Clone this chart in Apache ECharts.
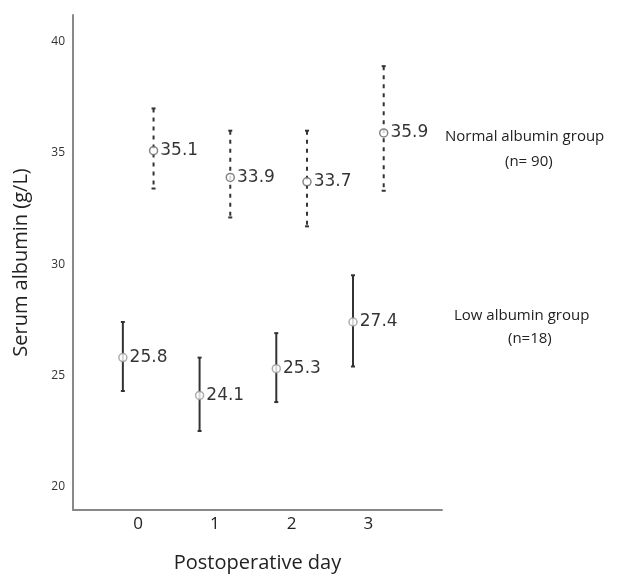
<!DOCTYPE html>
<html>
<head>
<meta charset="utf-8">
<script src="https://cdn.jsdelivr.net/npm/echarts@6/dist/echarts.min.js"></script>
<style>
  html, body { margin: 0; padding: 0; background: #fff; }
  #chart { width: 622px; height: 576px; }
</style>
</head>
<body>
<div id="chart"></div>
<script>
// postoperative days
const days = [0, 1, 2, 3];
const xTicks = [0, 1, 2, 3];
const yTicks = [20, 25, 30, 35, 40];

// normal albumin group (n=90): mean and error bar ends
const normalMean = [35.1, 33.9, 33.7, 35.9];
const normalLow = [33.4, 32.1, 31.7, 33.3];
const normalHigh = [37.0, 36.0, 36.0, 38.9];

// low albumin group (n=18)
const lowMean = [25.8, 24.1, 25.3, 27.4];
const lowLow = [24.3, 22.5, 23.8, 25.4];
const lowHigh = [27.4, 25.8, 26.9, 29.5];

const chart = echarts.init(document.getElementById('chart'));

// groups are drawn a little apart around each day
const SHIFT = 0.2;

const makeBars = (lo, hi, dx) =>
  days.map((d, i) => [d + dx, lo[i], hi[i]]);

const makePoints = (mean, dx) =>
  days.map((d, i) => [d + dx, mean[i]]);

function errorBar(dashed) {
  return function (params, api) {
    const x = api.value(0);
    const top = api.coord([x, api.value(2)]);
    const bot = api.coord([x, api.value(1)]);
    const style = {
      stroke: '#333',
      lineWidth: 2,
      lineDash: dashed ? [4, 5] : null
    };
    const cap = { stroke: '#333', lineWidth: 2 };
    return {
      type: 'group',
      children: [
        { type: 'line', shape: { x1: top[0], y1: top[1], x2: bot[0], y2: bot[1] }, style: style },
        { type: 'line', shape: { x1: top[0] - 2, y1: top[1], x2: top[0] + 2, y2: top[1] }, style: cap },
        { type: 'line', shape: { x1: bot[0] - 2, y1: bot[1], x2: bot[0] + 2, y2: bot[1] }, style: cap }
      ]
    };
  };
}

const pointLabel = {
  show: true,
  position: 'right',
  distance: 2,
  fontFamily: 'DejaVu Sans',
  fontSize: 17,
  color: '#000',
  formatter: p => p.value[1].toFixed(1)
};

const option = {
  animation: false,
  grid: { left: 73, right: 180, top: 15, bottom: 66, containLabel: false, outerBoundsMode: 'none' },
  xAxis: {
    type: 'value',
    min: -0.85,
    max: 3.96,
    name: 'Postoperative day',
    nameLocation: 'middle',
    nameGap: 43,
    nameTextStyle: { fontFamily: 'Open Sans', fontSize: 20, color: '#222' },
    axisLine: { show: true, lineStyle: { color: '#888', width: 2 } },
    axisTick: { show: false },
    splitLine: { show: false },
    axisLabel: {
      customValues: xTicks,
      fontFamily: 'Open Sans',
      fontSize: 17,
      color: '#222',
      margin: 6
    }
  },
  yAxis: {
    type: 'value',
    min: 18.95,
    max: 41.2,
    name: 'Serum albumin (g/L)',
    nameLocation: 'middle',
    nameGap: 42,
    nameTextStyle: { fontFamily: 'Open Sans', fontSize: 20, color: '#222' },
    axisLine: { show: true, onZero: false, lineStyle: { color: '#888', width: 2 } },
    axisTick: { show: false },
    splitLine: { show: false },
    axisLabel: {
      customValues: yTicks,
      fontFamily: 'Open Sans',
      fontSize: 12,
      color: '#333',
      margin: 8
    }
  },
  graphic: [
    { type: 'text', left: 445, top: 129, style: { text: 'Normal albumin group', font: '15px "Open Sans"', fill: '#222' } },
    { type: 'text', left: 505, top: 154, style: { text: '(n= 90)', font: '15px "Open Sans"', fill: '#222' } },
    { type: 'text', left: 454, top: 308, style: { text: 'Low albumin group', font: '15px "Open Sans"', fill: '#222' } },
    { type: 'text', left: 508, top: 331, style: { text: '(n=18)', font: '15px "Open Sans"', fill: '#222' } }
  ],
  series: [
    {
      type: 'custom',
      renderItem: errorBar(true),
      data: makeBars(normalLow, normalHigh, SHIFT),
      z: 2
    },
    {
      type: 'custom',
      renderItem: errorBar(false),
      data: makeBars(lowLow, lowHigh, -SHIFT),
      z: 2
    },
    {
      type: 'scatter',
      data: makePoints(normalMean, SHIFT),
      symbol: 'circle',
      symbolSize: 8,
      itemStyle: { color: '#fff', borderColor: '#666', borderWidth: 1.5 },
      label: pointLabel,
      z: 3
    },
    {
      type: 'scatter',
      data: makePoints(lowMean, -SHIFT),
      symbol: 'circle',
      symbolSize: 8,
      itemStyle: { color: '#fff', borderColor: '#999', borderWidth: 1.5 },
      label: pointLabel,
      z: 3
    }
  ]
};

chart.setOption(option);
</script>
</body>
</html>
